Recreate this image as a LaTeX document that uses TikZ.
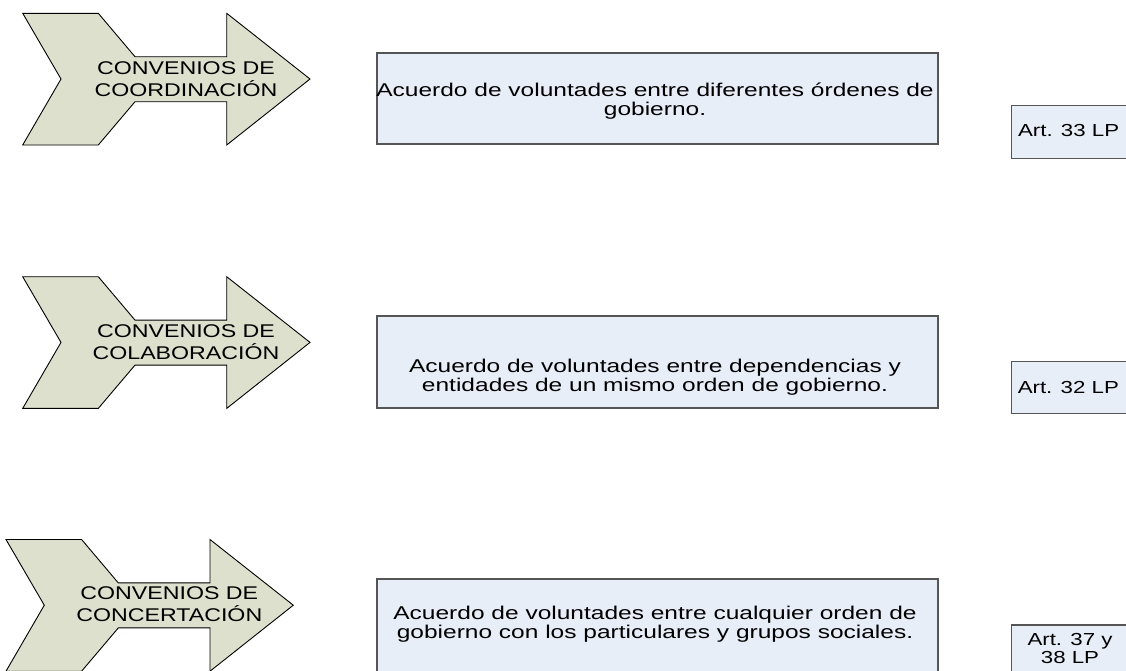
\documentclass[tikz,border=0pt]{standalone}
\usepackage{fontspec}
\setmainfont{Liberation Sans}
\newfontfamily\arrfont[FakeStretch=1.26]{Liberation Sans}
\newfontfamily\boxfont[FakeStretch=1.325]{Liberation Sans}
\newfontfamily\artfont[FakeStretch=1.28]{Liberation Sans}
\definecolor{chevfill}{RGB}{221,224,205}
\definecolor{boxfill}{RGB}{232,238,248}
\definecolor{boxline}{RGB}{85,85,85}
\newcommand{\twolines}[2]{\setlength{\tabcolsep}{0pt}\begin{tabular}[t]{c}#1\\#2\end{tabular}}
\begin{document}
\begin{tikzpicture}[x=1pt,y=-1pt,
  chev/.style={draw=black, line width=0.9pt, fill=chevfill, line join=miter},
  box/.style={draw=boxline, line width=1.1pt, fill=boxfill, rectangle, inner sep=0pt, minimum width=561pt},
  artbox/.style={draw=boxline, line width=1.1pt, fill=boxfill, rectangle, inner sep=0pt, minimum width=118pt},
  chevtxt/.style={inner sep=0pt, anchor=base, font=\arrfont\fontsize{18.4}{21.5}\selectfont},
  boxtxt/.style={inner sep=0pt, anchor=base, font=\boxfont\fontsize{18.5}{18.4}\selectfont},
  arttxt/.style={inner sep=0pt, anchor=base, font=\artfont\fontsize{17.4}{18.3}\selectfont},
  chevron/.pic={\draw[chev] (22.7,13.3) -- (98.3,13.3) -- (135,56.7) -- (226.7,56.7) -- (226.7,13.3) -- (310,79) -- (226.7,145) -- (226.7,101.7) -- (135,101.7) -- (98.3,145) -- (22.7,145) -- (61,79) -- cycle;}
]
\useasboundingbox (0,0) rectangle (1126,670);
\clip (0,0) rectangle (1126,670);
\fill[white] (0,0) rectangle (1126,670);

% chevrons
\pic (c1) at (0,0) {chevron};
\pic (c2) at (0,263.4) {chevron};
\pic (c3) at (-16.7,526.2) {chevron};
\node[chevtxt] (c1t) at (186,74) {\twolines{CONVENIOS DE}{COORDINACIÓN}};
\node[chevtxt] (c2t) at (186,337.3) {\twolines{CONVENIOS DE}{COLABORACIÓN}};
\node[chevtxt] (c3t) at (169.3,599.5) {\twolines{CONVENIOS DE}{CONCERTACIÓN}};

% description boxes
\node[box, minimum height=91pt] (b1) at (657.5,98.5) {};
\node[box, minimum height=92pt] (b2) at (657.5,362) {};
\node[box, minimum height=121pt] (b3) at (657.5,639.5) {};
\node[boxtxt] (b1t) at (655,96.7) {\twolines{Acuerdo de voluntades entre diferentes órdenes de}{gobierno.}};
\node[boxtxt] (b2t) at (655,372.7) {\twolines{Acuerdo de voluntades entre dependencias y}{entidades de un mismo orden de gobierno.}};
\node[boxtxt] (b3t) at (655,619.3) {\twolines{Acuerdo de voluntades entre cualquier orden de}{gobierno con los particulares y grupos sociales.}};

% article boxes
\node[artbox, minimum height=53.3pt] (a1) at (1070.7,131.7) {};
\node[artbox, minimum height=51.6pt] (a2) at (1070.7,387.5) {};
\node[artbox, minimum height=75pt] (a3) at (1070.7,662.5) {};
\node[arttxt] (a1t) at (1068.6,136.7) {Art. 33 LP};
\node[arttxt] (a2t) at (1068.3,393.3) {Art. 32 LP};
\node[arttxt] (a3t) at (1070,645) {\twolines{Art. 37 y}{38 LP}};
\end{tikzpicture}
\end{document}
